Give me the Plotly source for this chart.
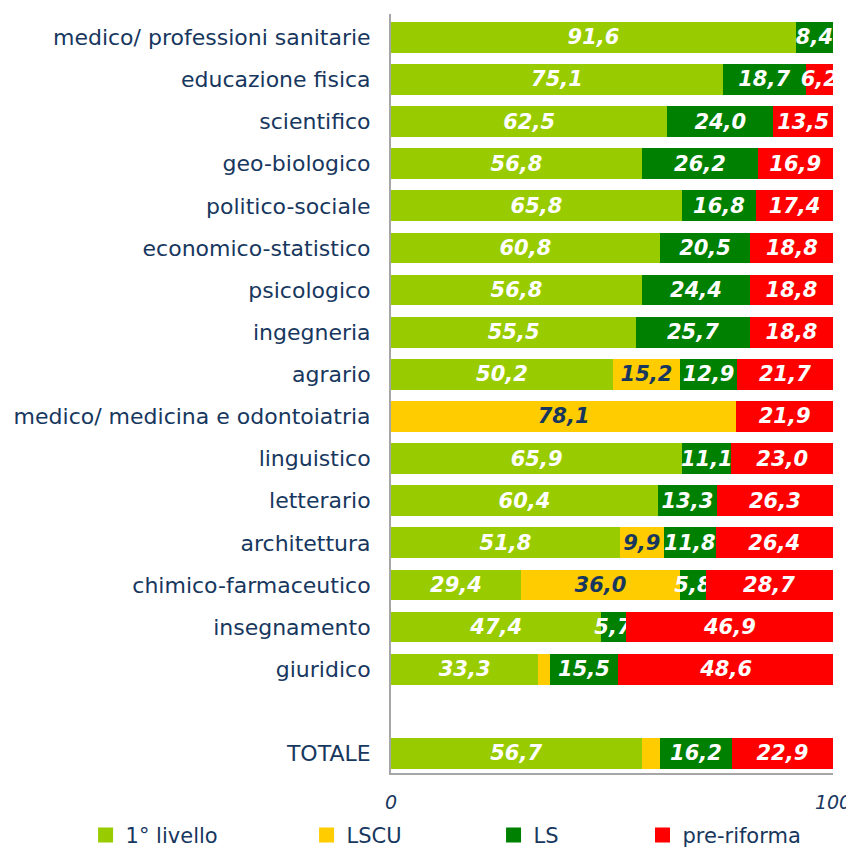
import plotly.graph_objects as go

categories = [
    "medico/ professioni sanitarie", "educazione fisica", "scientifico", "geo-biologico",
    "politico-sociale", "economico-statistico", "psicologico", "ingegneria", "agrario",
    "medico/ medicina e odontoiatria", "linguistico", "letterario", "architettura",
    "chimico-farmaceutico", "insegnamento", "giuridico", "TOTALE",
]
primo_livello = [91.6, 75.1, 62.5, 56.8, 65.8, 60.8, 56.8, 55.5, 50.2, 0.0, 65.9, 60.4, 51.8, 29.4, 47.4, 33.3, 56.7]
lscu =          [0.0, 0.0, 0.0, 0.0, 0.0, 0.0, 0.0, 0.0, 15.2, 78.1, 0.0, 0.0, 9.9, 36.0, 0.0, 2.6, 4.2]
ls =            [8.4, 18.7, 24.0, 26.2, 16.8, 20.5, 24.4, 25.7, 12.9, 0.0, 11.1, 13.3, 11.8, 5.8, 5.7, 15.5, 16.2]
pre_riforma =   [0.0, 6.2, 13.5, 16.9, 17.4, 18.8, 18.8, 18.8, 21.7, 21.9, 23.0, 26.3, 26.4, 28.7, 46.9, 48.6, 22.9]

series_names = ["1° livello", "LSCU", "LS", "pre-riforma"]
series_values = [primo_livello, lscu, ls, pre_riforma]
series_colors = ["#99CC00", "#FFCC00", "#008000", "#FF0000"]
label_colors = ["white", "#17375E", "white", "white"]
x_tick_vals = [0, 100]
x_tick_text = ["0", "100"]

# row positions: one empty row before TOTALE
y_pos = [i if c != "TOTALE" else i + 1 for i, c in enumerate(categories)]

NAVY = "#17375E"
FONT = "DejaVu Sans"

def fmt(v):
    return f"{v:.1f}".replace(".", ",") if v >= 5 else ""

fig = go.Figure()
for name, vals, col, lcol in zip(series_names, series_values, series_colors, label_colors):
    fig.add_trace(go.Bar(
        x=vals, y=y_pos, orientation="h", name=name,
        marker=dict(color=col, line=dict(width=0)),
        width=0.73,
        text=[fmt(v) for v in vals],
        textposition="inside", insidetextanchor="middle", textangle=0,
        constraintext="none",
        textfont=dict(family=FONT, size=21, color=lcol, weight="bold", style="italic"),
        showlegend=False, hoverinfo="skip",
    ))

legend_x = [-0.691, -0.191, 0.232, 0.569]
for k, (name, col) in enumerate(zip(series_names, series_colors)):
    lg = "legend" if k == 0 else f"legend{k+1}"
    fig.add_trace(go.Scatter(
        x=[None], y=[None], mode="markers", name=name,
        marker=dict(symbol="square", size=15, color=col),
        legend=lg, showlegend=True,
    ))

legend_common = dict(orientation="h", yanchor="middle", y=-0.082, xanchor="left",
                     font=dict(family=FONT, size=21, color=NAVY),
                     bgcolor="rgba(0,0,0,0)", borderwidth=0)
layout_legends = {}
for k in range(4):
    key = "legend" if k == 0 else f"legend{k+1}"
    layout_legends[key] = dict(legend_common, x=legend_x[k])

fig.update_layout(
    width=854, height=847,
    margin=dict(l=383, r=29, t=6, b=82, autoexpand=False),
    barmode="stack",
    plot_bgcolor="white", paper_bgcolor="white",
    uniformtext=dict(minsize=21, mode="show"),
    font=dict(family=FONT, color=NAVY),
    xaxis=dict(range=[0, 100], tickvals=x_tick_vals, ticktext=x_tick_text,
               showgrid=False, zeroline=False, showline=True, linecolor="#A6A6A6", linewidth=2,
               ticks="", ticklabelstandoff=11, automargin=False,
               tickfont=dict(family=FONT, size=19, color=NAVY, style="italic")),
    yaxis=dict(range=[17.463, -0.553], tickvals=y_pos, ticktext=categories,
               showgrid=False, zeroline=False, showline=True, linecolor="#A6A6A6", linewidth=2,
               ticks="", ticklabelstandoff=14, automargin=False,
               tickfont=dict(family=FONT, size=22, color=NAVY)),
    **layout_legends,
)

fig.write_html("out.html")
